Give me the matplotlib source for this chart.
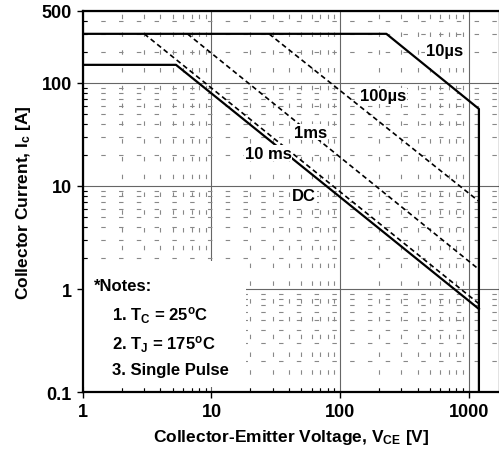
import matplotlib.pyplot as plt
import matplotlib.ticker as mticker

plt.rcParams['font.family'] = ['Liberation Sans', 'DejaVu Sans']
plt.rcParams['font.weight'] = 'bold'
plt.rcParams['mathtext.fontset'] = 'custom'
plt.rcParams['mathtext.rm'] = 'Liberation Sans:bold'
plt.rcParams['mathtext.it'] = 'Liberation Sans:bold'
plt.rcParams['mathtext.bf'] = 'Liberation Sans:bold'

# SOA boundaries (V_CE in V, I_C in A)
v_10us = [1, 229, 1200, 1200]
i_10us = [300, 300, 56, 0.1]
v_dc = [1, 5.3, 1200]
i_dc = [150, 150, 0.64]
v_10ms = [3, 1200]
i_10ms = [300, 0.72]
v_1ms = [6.5, 1200]
i_1ms = [300, 1.55]
v_100us = [28, 1200]
i_100us = [300, 7.1]

x_ticks = [1, 10, 100, 1000]
y_ticks = [0.1, 1, 10, 100, 500]

fig = plt.figure(figsize=(4.99, 4.52), dpi=100)
ax = fig.add_axes([0.166, 0.1305, 0.836, 0.843])

ax.set_xscale('log')
ax.set_yscale('log')
ax.set_xlim(1, 1750)
ax.set_ylim(0.1, 500)
ax.set_axisbelow(True)

ax.grid(which='major', color='#666666', lw=0.8)
ax.grid(which='minor', color='#888888', lw=0.8, linestyle=(0, (4, 12)))

# white box behind the notes (leaves the bottom ticks visible)
ax.fill_between([1.01, 18.5], [0.113, 0.113], [1.87, 1.87], color='white',
                lw=0, zorder=1)

ax.plot(v_10us, i_10us, color='black', lw=1.6, zorder=3)
ax.plot(v_dc, i_dc, color='black', lw=1.6, zorder=3)
dash = (0, (3, 2))
ax.plot(v_10ms, i_10ms, color='black', lw=1.2, linestyle=dash, zorder=3)
ax.plot(v_1ms, i_1ms, color='black', lw=1.2, linestyle=dash, zorder=3)
ax.plot(v_100us, i_100us, color='black', lw=1.2, linestyle=dash, zorder=3)

lbl = dict(fontsize=12, fontweight='bold', ha='center', va='center', zorder=4,
           bbox=dict(facecolor='white', edgecolor='none', pad=0.5))
ax.text(650, 205, '10µs', **lbl)
ax.text(217, 75, '100µs', **lbl)
ax.text(58.5, 33.4, '1ms', **lbl)
ax.text(27.5, 20.9, '10 ms', **lbl)
ax.text(52.5, 8.0, 'DC', **lbl)

notes = dict(fontsize=12, fontweight='bold', ha='left', va='center', zorder=4)
ax.text(1.22, 1.07, '*Notes:', **notes)
ax.text(1.7, 0.57, '1. T$_\\mathregular{C}$ = 25$^\\mathregular{o}$C', **notes)
ax.text(1.7, 0.292, '2. T$_\\mathregular{J}$ = 175$^\\mathregular{o}$C', **notes)
ax.text(1.7, 0.167, '3. Single Pulse', **notes)

ax.xaxis.set_major_locator(mticker.FixedLocator(x_ticks))
ax.xaxis.set_major_formatter(mticker.FixedFormatter([str(t) for t in x_ticks]))
ax.yaxis.set_major_locator(mticker.FixedLocator(y_ticks))
ax.yaxis.set_major_formatter(mticker.FixedFormatter(['0.1', '1', '10', '100', '500']))
ax.xaxis.set_minor_formatter(mticker.NullFormatter())
ax.yaxis.set_minor_formatter(mticker.NullFormatter())

ax.tick_params(which='major', labelsize=13, length=4, width=1, direction='out', pad=4)
ax.tick_params(which='minor', length=3, width=0.8, direction='in')
for t in ax.get_xticklabels() + ax.get_yticklabels():
    t.set_fontweight('bold')

for s in ax.spines.values():
    s.set_linewidth(1.6)
    s.set_zorder(5)

ax.set_xlabel('Collector-Emitter Voltage, V$_\\mathregular{CE}$ [V]', fontsize=12.5,
              fontweight='bold', labelpad=5)
ax.set_ylabel('Collector Current, I$_\\mathregular{c}$ [A]', fontsize=12.5,
              fontweight='bold', labelpad=6)

fig.savefig('out.png', dpi=100)
